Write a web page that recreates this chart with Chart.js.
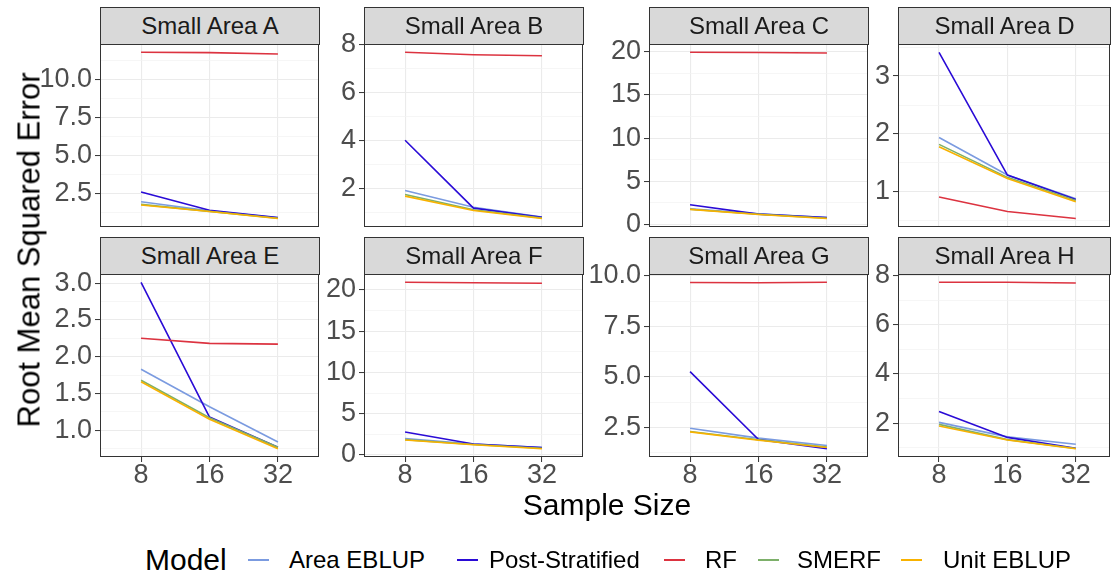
<!DOCTYPE html>
<html>
<head>
<meta charset="utf-8">
<script src="https://cdn.jsdelivr.net/npm/chart.js@4/dist/chart.umd.min.js"></script>
<style>
  html, body { margin:0; padding:0; background:#ffffff; }
  body { width:1111px; height:577px; position:relative; overflow:hidden; font-family:"Liberation Sans", Arial, sans-serif; }
  .cv { position:absolute; }
  .strip { position:absolute; box-sizing:border-box; background:#D9D9D9; border:1px solid #333333; color:#1A1A1A; font-size:24px; text-align:center; line-height:35px; z-index:2; }
  .txt { position:absolute; white-space:nowrap; color:#000; }
  .key { position:absolute; height:2px; width:21px; }
</style>
</head>
<body>
<div id="root"></div>
<script>
// ---------------- DATA ----------------
const sampleSizes = ['8', '16', '32'];
const areas = ['Small Area A','Small Area B','Small Area C','Small Area D','Small Area E','Small Area F','Small Area G','Small Area H'];
const models = ['Area EBLUP','Post-Stratified','RF','SMERF','Unit EBLUP'];

// one row per small area (A..H); values at sample sizes 8, 16, 32
const areaEBLUP = [
  [1.95, 1.35, 0.88],
  [1.92, 1.23, 0.82],
  [1.80, 1.22, 0.80],
  [1.94, 1.29, 0.88],
  [1.83, 1.32, 0.84],
  [1.98, 1.30, 0.90],
  [2.47, 1.98, 1.62],
  [2.03, 1.44, 1.14]
];
const postStratified = [
  [2.59, 1.38, 0.90],
  [4.01, 1.19, 0.81],
  [2.29, 1.20, 0.80],
  [3.41, 1.29, 0.87],
  [3.01, 1.18, 0.77],
  [2.78, 1.32, 0.88],
  [5.27, 1.91, 1.46],
  [2.47, 1.42, 0.98]
];
const rf = [
  [11.82, 11.80, 11.71],
  [7.66, 7.56, 7.52],
  [19.93, 19.90, 19.85],
  [0.91, 0.66, 0.54],
  [2.25, 2.18, 2.17],
  [20.92, 20.86, 20.80],
  [9.67, 9.66, 9.68],
  [7.73, 7.73, 7.70]
];
const smerf = [
  [1.77, 1.31, 0.86],
  [1.76, 1.12, 0.78],
  [1.76, 1.18, 0.72],
  [1.82, 1.25, 0.85],
  [1.68, 1.17, 0.77],
  [1.85, 1.25, 0.80],
  [2.31, 1.90, 1.54],
  [1.95, 1.33, 0.97]
];
const unitEBLUP = [
  [1.73, 1.30, 0.84],
  [1.69, 1.09, 0.76],
  [1.75, 1.15, 0.69],
  [1.78, 1.23, 0.83],
  [1.66, 1.15, 0.75],
  [1.80, 1.22, 0.75],
  [2.29, 1.88, 1.52],
  [1.88, 1.31, 0.96]
];
const yMajorTicks = [
  [2.5, 5, 7.5, 10],
  [2, 4, 6, 8],
  [0, 5, 10, 15, 20],
  [1, 2, 3],
  [1.0, 1.5, 2.0, 2.5, 3.0],
  [0, 5, 10, 15, 20],
  [2.5, 5, 7.5, 10],
  [2, 4, 6, 8]
];
const yTickLabels = [
  ['2.5','5.0','7.5','10.0'],
  ['2','4','6','8'],
  ['0','5','10','15','20'],
  ['1','2','3'],
  ['1.0','1.5','2.0','2.5','3.0'],
  ['0','5','10','15','20'],
  ['2.5','5.0','7.5','10.0'],
  ['2','4','6','8']
];

// ---------------- STYLE ----------------
const seriesData = [areaEBLUP, postStratified, rf, smerf, unitEBLUP];
const colors = ['#7B9BE0', '#2A0BD6', '#DC3340', '#7DB06A', '#F8B200'];
const FONT = '"Liberation Sans", Arial, sans-serif';
const TICK_SIZE = 27;
const panelLefts = [100, 364, 649, 898];
const panelW = [219, 219, 219, 212];
const xMax = [3.6, 3.6, 3.6, 3.5];
const stripTop = [7, 237];
const stripH = 37;
const panelBottom = [228, 457];
const AXW = 60;

const borderPlugin = {
  id: 'panelBorder',
  afterDraw(chart) {
    const a = chart.chartArea, c = chart.ctx;
    c.save();
    c.strokeStyle = '#333333';
    c.lineWidth = 1;
    c.strokeRect(Math.round(a.left) + 0.5, Math.round(a.top) + 0.5, Math.round(a.right - a.left) - 1, Math.round(a.bottom - a.top) - 1);
    c.restore();
  }
};

const root = document.getElementById('root');

areas.forEach((name, i) => {
  const row = Math.floor(i / 4), col = i % 4;
  const bottomRow = row === 1;
  const pl = panelLefts[col], pw = panelW[col];
  const top = stripTop[row];
  const xAxisH = bottomRow ? 42 : 0;
  const padBottom = bottomRow ? 0 : 18;
  const cw = AXW + pw + 1;
  const ch = (panelBottom[row] - top) + xAxisH + padBottom;

  const cv = document.createElement('canvas');
  cv.className = 'cv';
  cv.width = cw; cv.height = ch;
  cv.style.left = (pl - AXW) + 'px';
  cv.style.top = top + 'px';
  cv.style.width = cw + 'px'; cv.style.height = ch + 'px';
  root.appendChild(cv);

  const strip = document.createElement('div');
  strip.className = 'strip';
  strip.style.left = pl + 'px';
  strip.style.top = top + 'px';
  strip.style.width = (pw + 1) + 'px';
  strip.style.height = (stripH + 1) + 'px';
  strip.textContent = name;
  root.appendChild(strip);

  // y range: data range expanded by 5% on each side
  const all = [];
  seriesData.forEach(s => s[i].forEach(v => all.push(v)));
  const dmin = Math.min(...all), dmax = Math.max(...all);
  const yMin = dmin - 0.05 * (dmax - dmin);
  const yMax = dmax + 0.05 * (dmax - dmin);

  const majors = yMajorTicks[i];
  const step = majors[1] - majors[0];
  const minors = [majors[0] - step / 2];
  majors.forEach(m => minors.push(m + step / 2));
  const allTicks = majors.concat(minors).filter(v => v >= yMin && v <= yMax).sort((a, b) => a - b);
  const isMajor = v => majors.some(m => Math.abs(m - v) < 1e-9);
  const labelFor = v => { const k = majors.findIndex(m => Math.abs(m - v) < 1e-9); return k >= 0 ? yTickLabels[i][k] : ''; };

  const datasets = models.map((m, k) => ({
    label: m,
    data: seriesData[k][i].map((v, j) => ({ x: j + 1, y: v })),
    borderColor: colors[k], backgroundColor: colors[k],
    borderWidth: 1.6, pointRadius: 0, tension: 0, fill: false,
    order: models.length - k
  }));

  new Chart(cv, {
    type: 'line',
    data: { datasets },
    plugins: [borderPlugin],
    options: {
      responsive: false, animation: false, devicePixelRatio: 1, events: [],
      layout: { padding: { top: stripH, bottom: padBottom, left: 0, right: 1 } },
      plugins: { legend: { display: false }, tooltip: { enabled: false } },
      scales: {
        x: {
          type: 'linear', min: 0.4, max: xMax[col],
          afterBuildTicks: s => { s.ticks = sampleSizes.map((_, j) => ({ value: j + 1 })); },
          afterFit: s => { s.height = xAxisH; },
          border: { display: false },
          grid: { color: '#EBEBEB', lineWidth: 1.1, drawTicks: bottomRow, tickLength: 5, tickColor: '#333333', tickWidth: 1 },
          ticks: { display: bottomRow, autoSkip: false, maxRotation: 0, padding: -3, color: '#4D4D4D',
                   font: { family: FONT, size: TICK_SIZE }, callback: v => sampleSizes[Math.round(v) - 1] }
        },
        y: {
          type: 'linear', min: yMin, max: yMax,
          afterBuildTicks: s => { s.ticks = allTicks.map(v => ({ value: v })); },
          afterFit: s => { s.width = AXW; },
          border: { display: false },
          grid: {
            color: c => isMajor(c.tick.value) ? '#EBEBEB' : '#F2F2F2',
            lineWidth: c => isMajor(c.tick.value) ? 1.1 : 0.7,
            drawTicks: true, tickLength: 5,
            tickColor: c => isMajor(c.tick.value) ? '#333333' : 'rgba(0,0,0,0)',
            tickWidth: 1
          },
          ticks: { autoSkip: false, padding: 3, color: '#4D4D4D',
                   font: { family: FONT, size: TICK_SIZE }, callback: v => labelFor(v) }
        }
      }
    }
  });
});

// ---------------- TITLES & LEGEND ----------------
function addText(t, x, y, size, extra) {
  const d = document.createElement('div');
  d.className = 'txt';
  d.textContent = t;
  d.style.fontSize = size + 'px';
  d.style.left = x + 'px';
  d.style.top = y + 'px';
  d.style.lineHeight = '1';
  if (extra) Object.assign(d.style, extra);
  root.appendChild(d);
  return d;
}
addText('Root Mean Squared Error', 29, 250, 31, { transform: 'translate(-50%,-50%) rotate(-90deg)' });
addText('Sample Size', 607, 505, 30, { transform: 'translate(-50%,-50%)' });
addText('Model', 145, 560, 30, { transform: 'translateY(-50%)' });

const keyLefts = [248, 457, 664, 758, 901];
const labelLefts = [289, 489, 705, 797, 943];
models.forEach((m, k) => {
  const key = document.createElement('div');
  key.className = 'key';
  key.style.left = keyLefts[k] + 'px';
  key.style.top = '559px';
  key.style.background = colors[k];
  root.appendChild(key);
  addText(m, labelLefts[k], 560, 24, { transform: 'translateY(-50%)' });
});
</script>
</body>
</html>
